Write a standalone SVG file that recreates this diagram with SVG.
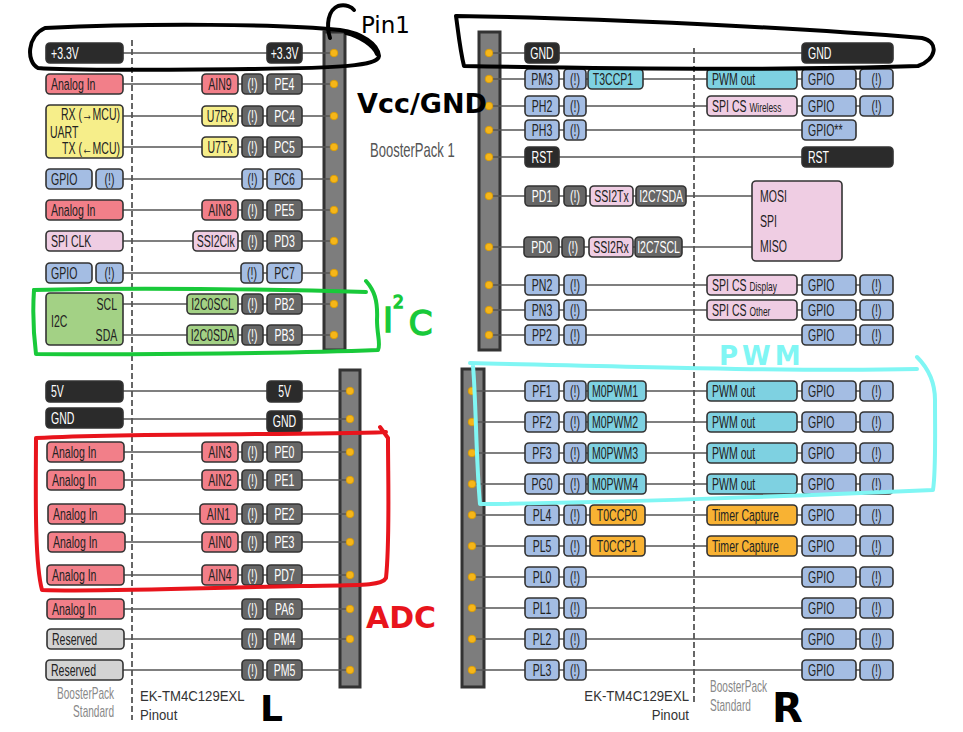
<svg xmlns="http://www.w3.org/2000/svg" width="963" height="732" viewBox="0 0 963 732">
<style>
rect.bx{stroke:#333;stroke-width:1.6}
.pw{fill:#2b2b2b}
.pn{fill:#666666}
.bl{fill:#a4bde3}
.rd{fill:#f27f89}
.yl{fill:#f6ee8a}
.pk{fill:#efcde3}
.gr{fill:#a3d185}
.cy{fill:#7ed1e1}
.og{fill:#f8b233}
.gy{fill:#d3d3d3}
.hdr{fill:#7d7d7d;stroke:#333;stroke-width:3}
.pin{fill:#f6b619;stroke:#d99a00;stroke-width:0.8}
text{font-family:"Liberation Sans",Arial,sans-serif;font-size:17px;fill:#222;transform-box:fill-box;transform-origin:0% 50%;transform:translate(0px,1px) scaleX(0.62)}
text.w{fill:#fff}
text.c{text-anchor:middle;transform-origin:50% 50%}
text.e{text-anchor:end;transform-origin:100% 50%}
.sm{font-size:13.5px}
text.lab{font-size:15.5px;fill:#333;transform:scaleX(0.85)}
text.gl{font-size:16px;fill:#888;transform:scaleX(0.63)}
.cn line{stroke:#555;stroke-width:1.4}
.dash{stroke:#666;stroke-width:2;stroke-dasharray:6 3}
.note{fill:none;stroke-linecap:round;stroke-linejoin:round;stroke-width:4}
text.hw{font-family:"DejaVu Sans",sans-serif;font-weight:bold;transform:none}
text.hn{font-family:"DejaVu Sans",sans-serif;transform:none}
</style>

<!-- header bars -->
<g id="headerA"><rect class="hdr" x="324" y="32" width="21" height="318"/></g>
<g id="headerB"><rect class="hdr" x="340" y="370" width="20" height="317"/></g>
<g id="headerC"><rect class="hdr" x="479" y="32" width="21" height="318"/></g>
<g id="headerD"><rect class="hdr" x="462" y="369" width="22" height="318"/></g>

<line class="dash" x1="132" y1="40" x2="132" y2="720"/>
<line class="dash" x1="694" y1="48" x2="694" y2="702"/>

<!-- connectors -->
<g id="connectors" class="cn">
<line x1="123" y1="53" x2="334" y2="53"/>
<line x1="123" y1="84" x2="334" y2="84"/>
<line x1="123" y1="116" x2="334" y2="116"/>
<line x1="123" y1="147" x2="334" y2="147"/>
<line x1="123" y1="179" x2="334" y2="179"/>
<line x1="123" y1="210" x2="334" y2="210"/>
<line x1="123" y1="241" x2="334" y2="241"/>
<line x1="123" y1="273" x2="334" y2="273"/>
<line x1="123" y1="304" x2="334" y2="304"/>
<line x1="123" y1="335" x2="334" y2="335"/>
<line x1="123" y1="391" x2="350" y2="391"/>
<line x1="123" y1="419" x2="350" y2="419"/>
<line x1="124" y1="452" x2="350" y2="452"/>
<line x1="124" y1="480" x2="350" y2="480"/>
<line x1="124" y1="514" x2="350" y2="514"/>
<line x1="124" y1="542" x2="350" y2="542"/>
<line x1="124" y1="575" x2="350" y2="575"/>
<line x1="124" y1="609" x2="350" y2="609"/>
<line x1="124" y1="639" x2="350" y2="639"/>
<line x1="123" y1="670" x2="350" y2="670"/>
<line x1="489" y1="53" x2="802" y2="53"/>
<line x1="489" y1="79" x2="860" y2="79"/>
<line x1="489" y1="106" x2="860" y2="106"/>
<line x1="489" y1="130" x2="802" y2="130"/>
<line x1="489" y1="157" x2="802" y2="157"/>
<line x1="489" y1="196" x2="752" y2="196"/>
<line x1="489" y1="247" x2="752" y2="247"/>
<line x1="489" y1="285" x2="860" y2="285"/>
<line x1="489" y1="310" x2="860" y2="310"/>
<line x1="489" y1="335" x2="860" y2="335"/>
<line x1="472" y1="391" x2="860" y2="391"/>
<line x1="472" y1="422" x2="860" y2="422"/>
<line x1="472" y1="453" x2="860" y2="453"/>
<line x1="472" y1="484" x2="860" y2="484"/>
<line x1="472" y1="515" x2="860" y2="515"/>
<line x1="472" y1="546" x2="860" y2="546"/>
<line x1="472" y1="577" x2="860" y2="577"/>
<line x1="472" y1="608" x2="860" y2="608"/>
<line x1="472" y1="639" x2="860" y2="639"/>
<line x1="472" y1="670" x2="860" y2="670"/>
</g>

<!-- pins -->
<g id="pinsA">
<circle class="pin" cx="334" cy="53" r="3.8"/><circle class="pin" cx="334" cy="84" r="3.8"/><circle class="pin" cx="334" cy="116" r="3.8"/><circle class="pin" cx="334" cy="147" r="3.8"/><circle class="pin" cx="334" cy="179" r="3.8"/><circle class="pin" cx="334" cy="210" r="3.8"/><circle class="pin" cx="334" cy="241" r="3.8"/><circle class="pin" cx="334" cy="273" r="3.8"/><circle class="pin" cx="334" cy="304" r="3.8"/><circle class="pin" cx="334" cy="335" r="3.8"/>
</g>
<g id="pinsB">
<circle class="pin" cx="350" cy="391" r="3.8"/><circle class="pin" cx="350" cy="419" r="3.8"/><circle class="pin" cx="350" cy="452" r="3.8"/><circle class="pin" cx="350" cy="480" r="3.8"/><circle class="pin" cx="350" cy="514" r="3.8"/><circle class="pin" cx="350" cy="542" r="3.8"/><circle class="pin" cx="350" cy="575" r="3.8"/><circle class="pin" cx="350" cy="609" r="3.8"/><circle class="pin" cx="350" cy="639" r="3.8"/><circle class="pin" cx="350" cy="670" r="3.8"/>
</g>
<g id="pinsC">
<circle class="pin" cx="489" cy="53" r="3.8"/><circle class="pin" cx="489" cy="79" r="3.8"/><circle class="pin" cx="489" cy="106" r="3.8"/><circle class="pin" cx="489" cy="130" r="3.8"/><circle class="pin" cx="489" cy="157" r="3.8"/><circle class="pin" cx="489" cy="196" r="3.8"/><circle class="pin" cx="489" cy="247" r="3.8"/><circle class="pin" cx="489" cy="285" r="3.8"/><circle class="pin" cx="489" cy="310" r="3.8"/><circle class="pin" cx="489" cy="335" r="3.8"/>
</g>
<g id="pinsD">
<circle class="pin" cx="472" cy="391" r="3.8"/><circle class="pin" cx="472" cy="422" r="3.8"/><circle class="pin" cx="472" cy="453" r="3.8"/><circle class="pin" cx="472" cy="484" r="3.8"/><circle class="pin" cx="472" cy="515" r="3.8"/><circle class="pin" cx="472" cy="546" r="3.8"/><circle class="pin" cx="472" cy="577" r="3.8"/><circle class="pin" cx="472" cy="608" r="3.8"/><circle class="pin" cx="472" cy="639" r="3.8"/><circle class="pin" cx="472" cy="670" r="3.8"/>
</g>

<!-- LEFT TOP -->
<g id="A1-bp"><rect class="bx pw" x="46" y="43" width="77" height="20" rx="4"/><text class="w" x="51" y="58">+3.3V</text></g>
<g id="A1-pin"><rect class="bx pw" x="267" y="43" width="35" height="20" rx="4"/><text class="w c" x="284.5" y="58">+3.3V</text></g>

<g id="A2-bp"><rect class="bx rd" x="46" y="74" width="77" height="20" rx="4"/><text x="51" y="89">Analog In</text></g>
<g id="A2-f"><rect class="bx rd" x="202" y="74" width="36" height="20" rx="4"/><text class="c" x="220" y="89">AIN9</text></g>
<g id="A2-x"><rect class="bx pn" x="242" y="74" width="21" height="20" rx="4"/><text class="w c" x="252.5" y="89">(!)</text></g>
<g id="A2-pin"><rect class="bx pn" x="267" y="74" width="35" height="20" rx="4"/><text class="w c" x="284.5" y="89">PE4</text></g>

<g id="A-uart"><rect class="bx yl" x="46" y="105" width="77" height="53" rx="4"/><text class="e" x="120" y="119">RX (→MCU)</text><text x="50" y="137">UART</text><text class="e" x="120" y="153">TX (←MCU)</text></g>
<g id="A3-f"><rect class="bx yl" x="202" y="106" width="36" height="20" rx="4"/><text class="c" x="220" y="121">U7Rx</text></g>
<g id="A3-x"><rect class="bx pn" x="242" y="106" width="21" height="20" rx="4"/><text class="w c" x="252.5" y="121">(!)</text></g>
<g id="A3-pin"><rect class="bx pn" x="267" y="106" width="35" height="20" rx="4"/><text class="w c" x="284.5" y="121">PC4</text></g>
<g id="A4-f"><rect class="bx yl" x="202" y="137" width="36" height="20" rx="4"/><text class="c" x="220" y="152">U7Tx</text></g>
<g id="A4-x"><rect class="bx pn" x="242" y="137" width="21" height="20" rx="4"/><text class="w c" x="252.5" y="152">(!)</text></g>
<g id="A4-pin"><rect class="bx pn" x="267" y="137" width="35" height="20" rx="4"/><text class="w c" x="284.5" y="152">PC5</text></g>

<g id="A5-bp"><rect class="bx bl" x="46" y="169" width="46" height="20" rx="4"/><text x="51" y="184">GPIO</text></g>
<g id="A5-bpx"><rect class="bx bl" x="96" y="169" width="27" height="20" rx="4"/><text class="c" x="109.5" y="184">(!)</text></g>
<g id="A5-x"><rect class="bx bl" x="242" y="169" width="21" height="20" rx="4"/><text class="c" x="252.5" y="184">(!)</text></g>
<g id="A5-pin"><rect class="bx bl" x="267" y="169" width="35" height="20" rx="4"/><text class="c" x="284.5" y="184">PC6</text></g>

<g id="A6-bp"><rect class="bx rd" x="46" y="200" width="77" height="20" rx="4"/><text x="51" y="215">Analog In</text></g>
<g id="A6-f"><rect class="bx rd" x="202" y="200" width="36" height="20" rx="4"/><text class="c" x="220" y="215">AIN8</text></g>
<g id="A6-x"><rect class="bx pn" x="242" y="200" width="21" height="20" rx="4"/><text class="w c" x="252.5" y="215">(!)</text></g>
<g id="A6-pin"><rect class="bx pn" x="267" y="200" width="35" height="20" rx="4"/><text class="w c" x="284.5" y="215">PE5</text></g>

<g id="A7-bp"><rect class="bx pk" x="46" y="231" width="77" height="20" rx="4"/><text x="51" y="246">SPI CLK</text></g>
<g id="A7-f"><rect class="bx pk" x="193" y="231" width="45" height="20" rx="4"/><text class="c" x="215.5" y="246">SSI2Clk</text></g>
<g id="A7-x"><rect class="bx pn" x="242" y="231" width="21" height="20" rx="4"/><text class="w c" x="252.5" y="246">(!)</text></g>
<g id="A7-pin"><rect class="bx pn" x="267" y="231" width="35" height="20" rx="4"/><text class="w c" x="284.5" y="246">PD3</text></g>

<g id="A8-bp"><rect class="bx bl" x="46" y="263" width="46" height="20" rx="4"/><text x="51" y="278">GPIO</text></g>
<g id="A8-bpx"><rect class="bx bl" x="96" y="263" width="27" height="20" rx="4"/><text class="c" x="109.5" y="278">(!)</text></g>
<g id="A8-x"><rect class="bx bl" x="241" y="263" width="22" height="20" rx="4"/><text class="c" x="252" y="278">(!)</text></g>
<g id="A8-pin"><rect class="bx bl" x="267" y="263" width="35" height="20" rx="4"/><text class="c" x="284.5" y="278">PC7</text></g>

<g id="A-i2c"><rect class="bx gr" x="46" y="293" width="77" height="52" rx="4"/><text class="e" x="117" y="309">SCL</text><text x="51" y="326">I2C</text><text class="e" x="117" y="340">SDA</text></g>
<g id="A9-f"><rect class="bx gr" x="187" y="294" width="51" height="20" rx="4"/><text class="c" x="212.5" y="309">I2C0SCL</text></g>
<g id="A9-x"><rect class="bx pn" x="242" y="294" width="21" height="20" rx="4"/><text class="w c" x="252.5" y="309">(!)</text></g>
<g id="A9-pin"><rect class="bx pn" x="267" y="294" width="35" height="20" rx="4"/><text class="w c" x="284.5" y="309">PB2</text></g>
<g id="A10-f"><rect class="bx gr" x="187" y="325" width="51" height="20" rx="4"/><text class="c" x="212.5" y="340">I2C0SDA</text></g>
<g id="A10-x"><rect class="bx pn" x="242" y="325" width="21" height="20" rx="4"/><text class="w c" x="252.5" y="340">(!)</text></g>
<g id="A10-pin"><rect class="bx pn" x="267" y="325" width="35" height="20" rx="4"/><text class="w c" x="284.5" y="340">PB3</text></g>

<text x="370" y="156" style="font-size:21px;fill:#555">BoosterPack 1</text>

<!-- LEFT BOTTOM -->
<g id="B1-bp"><rect class="bx pw" x="46" y="381" width="77" height="21" rx="4"/><text class="w" x="51" y="396">5V</text></g>
<g id="B1-pin"><rect class="bx pw" x="267" y="381" width="35" height="21" rx="4"/><text class="w c" x="284.5" y="396">5V</text></g>
<g id="B2-bp"><rect class="bx pw" x="46" y="408" width="77" height="20" rx="4"/><text class="w" x="51" y="423">GND</text></g>
<g id="B2-pin"><rect class="bx pw" x="267" y="411" width="35" height="21" rx="4"/><text class="w c" x="284.5" y="426">GND</text></g>

<g id="B3-bp"><rect class="bx rd" x="47" y="442" width="77" height="20" rx="4"/><text x="52" y="457">Analog In</text></g>
<g id="B3-f"><rect class="bx rd" x="202" y="442" width="36" height="20" rx="4"/><text class="c" x="220" y="457">AIN3</text></g>
<g id="B3-x"><rect class="bx pn" x="242" y="442" width="21" height="20" rx="4"/><text class="w c" x="252.5" y="457">(!)</text></g>
<g id="B3-pin"><rect class="bx pn" x="267" y="442" width="35" height="20" rx="4"/><text class="w c" x="284.5" y="457">PE0</text></g>

<g id="B4-bp"><rect class="bx rd" x="47" y="470" width="77" height="20" rx="4"/><text x="52" y="485">Analog In</text></g>
<g id="B4-f"><rect class="bx rd" x="202" y="470" width="36" height="20" rx="4"/><text class="c" x="220" y="485">AIN2</text></g>
<g id="B4-x"><rect class="bx pn" x="242" y="470" width="21" height="20" rx="4"/><text class="w c" x="252.5" y="485">(!)</text></g>
<g id="B4-pin"><rect class="bx pn" x="267" y="470" width="35" height="20" rx="4"/><text class="w c" x="284.5" y="485">PE1</text></g>

<g id="B5-bp"><rect class="bx rd" x="48" y="504" width="77" height="20" rx="4"/><text x="53" y="519">Analog In</text></g>
<g id="B5-f"><rect class="bx rd" x="200" y="504" width="37" height="20" rx="4"/><text class="c" x="218.5" y="519">AIN1</text></g>
<g id="B5-x"><rect class="bx pn" x="242" y="504" width="21" height="20" rx="4"/><text class="w c" x="252.5" y="519">(!)</text></g>
<g id="B5-pin"><rect class="bx pn" x="267" y="504" width="35" height="20" rx="4"/><text class="w c" x="284.5" y="519">PE2</text></g>

<g id="B6-bp"><rect class="bx rd" x="48" y="532" width="77" height="20" rx="4"/><text x="53" y="547">Analog In</text></g>
<g id="B6-f"><rect class="bx rd" x="202" y="532" width="36" height="20" rx="4"/><text class="c" x="220" y="547">AIN0</text></g>
<g id="B6-x"><rect class="bx pn" x="242" y="532" width="21" height="20" rx="4"/><text class="w c" x="252.5" y="547">(!)</text></g>
<g id="B6-pin"><rect class="bx pn" x="267" y="532" width="35" height="20" rx="4"/><text class="w c" x="284.5" y="547">PE3</text></g>

<g id="B7-bp"><rect class="bx rd" x="47" y="565" width="77" height="20" rx="4"/><text x="52" y="580">Analog In</text></g>
<g id="B7-f"><rect class="bx rd" x="202" y="565" width="36" height="20" rx="4"/><text class="c" x="220" y="580">AIN4</text></g>
<g id="B7-x"><rect class="bx pn" x="242" y="565" width="21" height="20" rx="4"/><text class="w c" x="252.5" y="580">(!)</text></g>
<g id="B7-pin"><rect class="bx pn" x="267" y="565" width="35" height="20" rx="4"/><text class="w c" x="284.5" y="580">PD7</text></g>

<g id="B8-bp"><rect class="bx rd" x="47" y="599" width="77" height="20" rx="4"/><text x="52" y="614">Analog In</text></g>
<g id="B8-x"><rect class="bx pn" x="242" y="599" width="21" height="20" rx="4"/><text class="w c" x="252.5" y="614">(!)</text></g>
<g id="B8-pin"><rect class="bx pn" x="267" y="599" width="35" height="20" rx="4"/><text class="w c" x="284.5" y="614">PA6</text></g>

<g id="B9-bp"><rect class="bx gy" x="47" y="629" width="77" height="20" rx="4"/><text x="52" y="644">Reserved</text></g>
<g id="B9-x"><rect class="bx pn" x="242" y="629" width="21" height="20" rx="4"/><text class="w c" x="252.5" y="644">(!)</text></g>
<g id="B9-pin"><rect class="bx pn" x="267" y="629" width="35" height="20" rx="4"/><text class="w c" x="284.5" y="644">PM4</text></g>

<g id="B10-bp"><rect class="bx gy" x="46" y="660" width="77" height="20" rx="4"/><text x="51" y="675">Reserved</text></g>
<g id="B10-x"><rect class="bx pn" x="242" y="660" width="21" height="20" rx="4"/><text class="w c" x="252.5" y="675">(!)</text></g>
<g id="B10-pin"><rect class="bx pn" x="267" y="660" width="35" height="20" rx="4"/><text class="w c" x="284.5" y="675">PM5</text></g>

<text class="e gl" x="114" y="699">BoosterPack</text>
<text class="e gl" x="114" y="717">Standard</text>
<text class="lab" x="140" y="701">EK-TM4C129EXL</text>
<text class="lab" x="140" y="720">Pinout</text>

<!-- RIGHT TOP -->
<g id="C1-pin"><rect class="bx pw" x="525" y="43" width="34" height="20" rx="4"/><text class="w c" x="542" y="58">GND</text></g>
<g id="C1-bp"><rect class="bx pw" x="802" y="43" width="91" height="20" rx="4"/><text class="w" x="808" y="58">GND</text></g>

<g id="C2-pin"><rect class="bx bl" x="525" y="69" width="34" height="20" rx="4"/><text class="c" x="542" y="84">PM3</text></g>
<g id="C2-x"><rect class="bx bl" x="564" y="69" width="22" height="20" rx="4"/><text class="c" x="575" y="84">(!)</text></g>
<g id="C2-f"><rect class="bx cy" x="588" y="69" width="55" height="20" rx="4"/><text class="c" x="613" y="84">T3CCP1</text></g>
<g id="C2-bp"><rect class="bx cy" x="707" y="69" width="90" height="20" rx="4"/><text x="712" y="84">PWM out</text></g>
<g id="C2-g"><rect class="bx bl" x="802" y="69" width="54" height="20" rx="4"/><text x="808" y="84">GPIO</text></g>
<g id="C2-bx"><rect class="bx bl" x="860" y="69" width="33" height="20" rx="4"/><text class="c" x="876.5" y="84">(!)</text></g>

<g id="C3-pin"><rect class="bx bl" x="525" y="96" width="34" height="20" rx="4"/><text class="c" x="542" y="111">PH2</text></g>
<g id="C3-x"><rect class="bx bl" x="564" y="96" width="22" height="20" rx="4"/><text class="c" x="575" y="111">(!)</text></g>
<g id="C3-bp"><rect class="bx pk" x="707" y="96" width="90" height="20" rx="4"/><text x="712" y="111">SPI CS <tspan class="sm">Wireless</tspan></text></g>
<g id="C3-g"><rect class="bx bl" x="802" y="96" width="54" height="20" rx="4"/><text x="808" y="111">GPIO</text></g>
<g id="C3-bx"><rect class="bx bl" x="860" y="96" width="33" height="20" rx="4"/><text class="c" x="876.5" y="111">(!)</text></g>

<g id="C4-pin"><rect class="bx bl" x="525" y="120" width="34" height="20" rx="4"/><text class="c" x="542" y="135">PH3</text></g>
<g id="C4-x"><rect class="bx bl" x="564" y="120" width="22" height="20" rx="4"/><text class="c" x="575" y="135">(!)</text></g>
<g id="C4-g"><rect class="bx bl" x="802" y="120" width="54" height="20" rx="4"/><text x="808" y="135">GPIO**</text></g>

<g id="C5-pin"><rect class="bx pw" x="525" y="147" width="34" height="20" rx="4"/><text class="w c" x="542" y="162">RST</text></g>
<g id="C5-bp"><rect class="bx pw" x="802" y="147" width="91" height="20" rx="4"/><text class="w" x="808" y="162">RST</text></g>

<g id="C6-pin"><rect class="bx pn" x="525" y="186" width="34" height="20" rx="4"/><text class="w c" x="542" y="201">PD1</text></g>
<g id="C6-x"><rect class="bx pn" x="564" y="186" width="22" height="20" rx="4"/><text class="w c" x="575" y="201">(!)</text></g>
<g id="C6-f"><rect class="bx pk" x="590" y="186" width="43" height="20" rx="4"/><text class="c" x="611.5" y="201">SSI2Tx</text></g>
<g id="C6-f2"><rect class="bx pn" x="636" y="186" width="50" height="20" rx="4"/><text class="w c" x="661" y="201">I2C7SDA</text></g>

<g id="C7-pin"><rect class="bx pn" x="524" y="237" width="35" height="20" rx="4"/><text class="w c" x="541.5" y="252">PD0</text></g>
<g id="C7-x"><rect class="bx pn" x="562" y="237" width="22" height="20" rx="4"/><text class="w c" x="573" y="252">(!)</text></g>
<g id="C7-f"><rect class="bx pk" x="589" y="237" width="44" height="20" rx="4"/><text class="c" x="611" y="252">SSI2Rx</text></g>
<g id="C7-f2"><rect class="bx pn" x="635" y="237" width="47" height="20" rx="4"/><text class="w c" x="658.5" y="252">I2C7SCL</text></g>

<g id="C-spi"><rect class="bx pk" x="752" y="181" width="90" height="80" rx="4"/><text x="760" y="201">MOSI</text><text x="760" y="226">SPI</text><text x="760" y="251">MISO</text></g>

<g id="C8-pin"><rect class="bx bl" x="525" y="275" width="34" height="20" rx="4"/><text class="c" x="542" y="290">PN2</text></g>
<g id="C8-x"><rect class="bx bl" x="564" y="275" width="22" height="20" rx="4"/><text class="c" x="575" y="290">(!)</text></g>
<g id="C8-bp"><rect class="bx pk" x="707" y="275" width="90" height="20" rx="4"/><text x="712" y="290">SPI CS <tspan class="sm">Display</tspan></text></g>
<g id="C8-g"><rect class="bx bl" x="802" y="275" width="54" height="20" rx="4"/><text x="808" y="290">GPIO</text></g>
<g id="C8-bx"><rect class="bx bl" x="860" y="275" width="33" height="20" rx="4"/><text class="c" x="876.5" y="290">(!)</text></g>

<g id="C9-pin"><rect class="bx bl" x="525" y="300" width="34" height="20" rx="4"/><text class="c" x="542" y="315">PN3</text></g>
<g id="C9-x"><rect class="bx bl" x="564" y="300" width="22" height="20" rx="4"/><text class="c" x="575" y="315">(!)</text></g>
<g id="C9-bp"><rect class="bx pk" x="707" y="300" width="90" height="20" rx="4"/><text x="712" y="315">SPI CS <tspan class="sm">Other</tspan></text></g>
<g id="C9-g"><rect class="bx bl" x="802" y="300" width="54" height="20" rx="4"/><text x="808" y="315">GPIO</text></g>
<g id="C9-bx"><rect class="bx bl" x="860" y="300" width="33" height="20" rx="4"/><text class="c" x="876.5" y="315">(!)</text></g>

<g id="C10-pin"><rect class="bx bl" x="525" y="325" width="34" height="20" rx="4"/><text class="c" x="542" y="340">PP2</text></g>
<g id="C10-x"><rect class="bx bl" x="564" y="325" width="22" height="20" rx="4"/><text class="c" x="575" y="340">(!)</text></g>
<g id="C10-g"><rect class="bx bl" x="802" y="325" width="54" height="20" rx="4"/><text x="808" y="340">GPIO</text></g>
<g id="C10-bx"><rect class="bx bl" x="860" y="325" width="33" height="20" rx="4"/><text class="c" x="876.5" y="340">(!)</text></g>

<!-- RIGHT BOTTOM -->
<g id="D1-pin"><rect class="bx bl" x="525" y="381" width="34" height="20" rx="4"/><text class="c" x="542" y="396">PF1</text></g>
<g id="D1-x"><rect class="bx bl" x="564" y="381" width="22" height="20" rx="4"/><text class="c" x="575" y="396">(!)</text></g>
<g id="D1-f"><rect class="bx cy" x="588" y="381" width="58" height="20" rx="4"/><text class="c" x="615" y="396">M0PWM1</text></g>
<g id="D1-bp"><rect class="bx cy" x="707" y="381" width="90" height="20" rx="4"/><text x="712" y="396">PWM out</text></g>
<g id="D1-g"><rect class="bx bl" x="802" y="381" width="54" height="20" rx="4"/><text x="808" y="396">GPIO</text></g>
<g id="D1-bx"><rect class="bx bl" x="860" y="381" width="33" height="20" rx="4"/><text class="c" x="876.5" y="396">(!)</text></g>

<g id="D2-pin"><rect class="bx bl" x="525" y="412" width="34" height="20" rx="4"/><text class="c" x="542" y="427">PF2</text></g>
<g id="D2-x"><rect class="bx bl" x="564" y="412" width="22" height="20" rx="4"/><text class="c" x="575" y="427">(!)</text></g>
<g id="D2-f"><rect class="bx cy" x="588" y="412" width="58" height="20" rx="4"/><text class="c" x="615" y="427">M0PWM2</text></g>
<g id="D2-bp"><rect class="bx cy" x="707" y="412" width="90" height="20" rx="4"/><text x="712" y="427">PWM out</text></g>
<g id="D2-g"><rect class="bx bl" x="802" y="412" width="54" height="20" rx="4"/><text x="808" y="427">GPIO</text></g>
<g id="D2-bx"><rect class="bx bl" x="860" y="412" width="33" height="20" rx="4"/><text class="c" x="876.5" y="427">(!)</text></g>

<g id="D3-pin"><rect class="bx bl" x="525" y="443" width="34" height="20" rx="4"/><text class="c" x="542" y="458">PF3</text></g>
<g id="D3-x"><rect class="bx bl" x="564" y="443" width="22" height="20" rx="4"/><text class="c" x="575" y="458">(!)</text></g>
<g id="D3-f"><rect class="bx cy" x="588" y="443" width="58" height="20" rx="4"/><text class="c" x="615" y="458">M0PWM3</text></g>
<g id="D3-bp"><rect class="bx cy" x="707" y="443" width="90" height="20" rx="4"/><text x="712" y="458">PWM out</text></g>
<g id="D3-g"><rect class="bx bl" x="802" y="443" width="54" height="20" rx="4"/><text x="808" y="458">GPIO</text></g>
<g id="D3-bx"><rect class="bx bl" x="860" y="443" width="33" height="20" rx="4"/><text class="c" x="876.5" y="458">(!)</text></g>

<g id="D4-pin"><rect class="bx bl" x="525" y="474" width="34" height="20" rx="4"/><text class="c" x="542" y="489">PG0</text></g>
<g id="D4-x"><rect class="bx bl" x="564" y="474" width="22" height="20" rx="4"/><text class="c" x="575" y="489">(!)</text></g>
<g id="D4-f"><rect class="bx cy" x="588" y="474" width="58" height="20" rx="4"/><text class="c" x="615" y="489">M0PWM4</text></g>
<g id="D4-bp"><rect class="bx cy" x="707" y="474" width="90" height="20" rx="4"/><text x="712" y="489">PWM out</text></g>
<g id="D4-g"><rect class="bx bl" x="802" y="474" width="54" height="20" rx="4"/><text x="808" y="489">GPIO</text></g>
<g id="D4-bx"><rect class="bx bl" x="860" y="474" width="33" height="20" rx="4"/><text class="c" x="876.5" y="489">(!)</text></g>

<g id="D5-pin"><rect class="bx bl" x="525" y="505" width="34" height="20" rx="4"/><text class="c" x="542" y="520">PL4</text></g>
<g id="D5-x"><rect class="bx bl" x="564" y="505" width="22" height="20" rx="4"/><text class="c" x="575" y="520">(!)</text></g>
<g id="D5-f"><rect class="bx og" x="590" y="505" width="55" height="20" rx="4"/><text class="c" x="617" y="520">T0CCP0</text></g>
<g id="D5-bp"><rect class="bx og" x="707" y="505" width="90" height="20" rx="4"/><text x="712" y="520">Timer Capture</text></g>
<g id="D5-g"><rect class="bx bl" x="802" y="505" width="54" height="20" rx="4"/><text x="808" y="520">GPIO</text></g>
<g id="D5-bx"><rect class="bx bl" x="860" y="505" width="33" height="20" rx="4"/><text class="c" x="876.5" y="520">(!)</text></g>

<g id="D6-pin"><rect class="bx bl" x="525" y="536" width="34" height="20" rx="4"/><text class="c" x="542" y="551">PL5</text></g>
<g id="D6-x"><rect class="bx bl" x="564" y="536" width="22" height="20" rx="4"/><text class="c" x="575" y="551">(!)</text></g>
<g id="D6-f"><rect class="bx og" x="590" y="536" width="55" height="20" rx="4"/><text class="c" x="617" y="551">T0CCP1</text></g>
<g id="D6-bp"><rect class="bx og" x="707" y="536" width="90" height="20" rx="4"/><text x="712" y="551">Timer Capture</text></g>
<g id="D6-g"><rect class="bx bl" x="802" y="536" width="54" height="20" rx="4"/><text x="808" y="551">GPIO</text></g>
<g id="D6-bx"><rect class="bx bl" x="860" y="536" width="33" height="20" rx="4"/><text class="c" x="876.5" y="551">(!)</text></g>

<g id="D7-pin"><rect class="bx bl" x="525" y="567" width="34" height="20" rx="4"/><text class="c" x="542" y="582">PL0</text></g>
<g id="D7-x"><rect class="bx bl" x="564" y="567" width="22" height="20" rx="4"/><text class="c" x="575" y="582">(!)</text></g>
<g id="D7-g"><rect class="bx bl" x="802" y="567" width="54" height="20" rx="4"/><text x="808" y="582">GPIO</text></g>
<g id="D7-bx"><rect class="bx bl" x="860" y="567" width="33" height="20" rx="4"/><text class="c" x="876.5" y="582">(!)</text></g>

<g id="D8-pin"><rect class="bx bl" x="525" y="598" width="34" height="20" rx="4"/><text class="c" x="542" y="613">PL1</text></g>
<g id="D8-x"><rect class="bx bl" x="564" y="598" width="22" height="20" rx="4"/><text class="c" x="575" y="613">(!)</text></g>
<g id="D8-g"><rect class="bx bl" x="802" y="598" width="54" height="20" rx="4"/><text x="808" y="613">GPIO</text></g>
<g id="D8-bx"><rect class="bx bl" x="860" y="598" width="33" height="20" rx="4"/><text class="c" x="876.5" y="613">(!)</text></g>

<g id="D9-pin"><rect class="bx bl" x="525" y="629" width="34" height="20" rx="4"/><text class="c" x="542" y="644">PL2</text></g>
<g id="D9-x"><rect class="bx bl" x="564" y="629" width="22" height="20" rx="4"/><text class="c" x="575" y="644">(!)</text></g>
<g id="D9-g"><rect class="bx bl" x="802" y="629" width="54" height="20" rx="4"/><text x="808" y="644">GPIO</text></g>
<g id="D9-bx"><rect class="bx bl" x="860" y="629" width="33" height="20" rx="4"/><text class="c" x="876.5" y="644">(!)</text></g>

<g id="D10-pin"><rect class="bx bl" x="525" y="660" width="34" height="20" rx="4"/><text class="c" x="542" y="675">PL3</text></g>
<g id="D10-x"><rect class="bx bl" x="564" y="660" width="22" height="20" rx="4"/><text class="c" x="575" y="675">(!)</text></g>
<g id="D10-g"><rect class="bx bl" x="802" y="660" width="54" height="20" rx="4"/><text x="808" y="675">GPIO</text></g>
<g id="D10-bx"><rect class="bx bl" x="860" y="660" width="33" height="20" rx="4"/><text class="c" x="876.5" y="675">(!)</text></g>

<text class="e lab" x="689" y="701">EK-TM4C129EXL</text>
<text class="e lab" x="689" y="720">Pinout</text>
<text class="gl" x="710" y="692">BoosterPack</text>
<text class="gl" x="710" y="711">Standard</text>

<!-- hand-drawn annotations -->
<g id="annotations">
<path class="note" stroke="#000" d="M 45 28 C 150 23, 280 24, 340 30 C 362 33, 378 44, 379 56 C 378 66, 340 68, 250 69 C 160 70, 70 71, 38 68 C 26 62, 27 36, 45 28 Z"/>
<path class="note" stroke="#000" d="M 346 33 C 360 36, 374 46, 377 54"/>
<path class="note" stroke="#000" d="M 330 38 C 326 25, 328 10, 338 6 C 346 4, 352 7, 354 10"/>
<text class="hn" x="361" y="33" style="font-size:23px;fill:#000">Pin1</text>
<text class="hw" x="357" y="113" style="font-size:27px;fill:#000">Vcc/GND</text>
<path class="note" stroke="#000" d="M 456 16 C 600 18, 800 28, 922 38 C 940 42, 936 60, 918 66 C 800 70, 620 69, 464 66 C 460 50, 458 30, 456 16 Z"/>
<path class="note" stroke="#19c93a" d="M 34 290 C 150 287, 300 290, 366 292"/>
<path class="note" stroke="#19c93a" d="M 366 281 C 374 290, 378 300, 377 320 C 377 335, 381 345, 378 350 C 300 353, 150 355, 36 354 C 33 330, 33 305, 34 290"/>
<text class="hn" x="383" y="332" style="font-size:34px;fill:#19c93a;stroke:#19c93a;stroke-width:1.5">I<tspan dy="-24" style="font-size:17px">2</tspan><tspan dy="27" dx="5">C</tspan></text>
<path class="note" stroke="#e8141c" d="M 36 438 C 150 432, 300 436, 386 432 M 380 427 L 388 438 C 388 480, 390 540, 386 578 C 382 586, 360 585, 300 586 C 200 588, 100 592, 42 590 C 34 560, 36 480, 36 438"/>
<text class="hw" x="366" y="628" style="font-size:30px;fill:#e8141c">ADC</text>
<path class="note" stroke="#80f6f4" d="M 470 363 C 600 366, 800 372, 917 369 M 917 357 C 930 370, 935 385, 935 400 C 935 440, 936 470, 933 490 C 800 496, 600 503, 480 504 C 476 460, 476 400, 473 366"/>
<text class="hw" x="719" y="365" style="font-size:26px;fill:#80f6f4;letter-spacing:4px">PWM</text>
<text class="hw" x="260" y="721" style="font-size:36px;fill:#000">L</text>
<text class="hw" x="772" y="722" style="font-size:40px;fill:#000">R</text>
</g>
</svg>
